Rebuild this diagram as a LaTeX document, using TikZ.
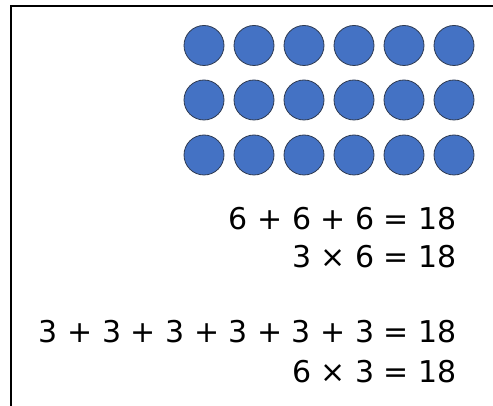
\documentclass[tikz,border=0pt]{standalone}
\usepackage{fontspec}
\setmainfont{DejaVu Sans}
\usepackage{tikz}
\definecolor{azuldot}{HTML}{4472C4}
\definecolor{bordedot}{HTML}{2F3B52}
\tikzset{
  dot/.style={circle,draw=bordedot,line width=0.8pt,fill=azuldot,
    minimum size=40pt,inner sep=0pt},
  suma/.style={anchor=base east,inner sep=0pt,font=\fontsize{30}{36}\selectfont},
  marco/.style={line width=2pt,draw=black}
}
\begin{document}
\begin{tikzpicture}[x=1pt,y=-1pt]
\useasboundingbox[fill=white] (0,0) rectangle (493,406);

\coordinate (mTR) at (493,6);
\coordinate (mTL) at (11,6);
\coordinate (mBL) at (11,406);
\draw[marco] (mTR)--(mTL)--(mBL);

\node[dot] (d11) at (204,45.5) {}; \node[dot] (d12) at (254,45.5) {};
\node[dot] (d13) at (304,45.5) {}; \node[dot] (d14) at (354,45.5) {};
\node[dot] (d15) at (404,45.5) {}; \node[dot] (d16) at (454,45.5) {};

\node[dot] (d21) at (204,100) {}; \node[dot] (d22) at (254,100) {};
\node[dot] (d23) at (304,100) {}; \node[dot] (d24) at (354,100) {};
\node[dot] (d25) at (404,100) {}; \node[dot] (d26) at (454,100) {};

\node[dot] (d31) at (204,155) {}; \node[dot] (d32) at (254,155) {};
\node[dot] (d33) at (304,155) {}; \node[dot] (d34) at (354,155) {};
\node[dot] (d35) at (404,155) {}; \node[dot] (d36) at (454,155) {};

\node[suma] (filas) at (457,230) {6 + 6 + 6 = 18};
\node[suma] (filasx) at (457,268) {3 × 6 = 18};
\node[suma] (cols) at (457,342) {3 + 3 + 3 + 3 + 3 + 3 = 18};
\node[suma] (colsx) at (457,382) {6 × 3 = 18};
\end{tikzpicture}
\end{document}
